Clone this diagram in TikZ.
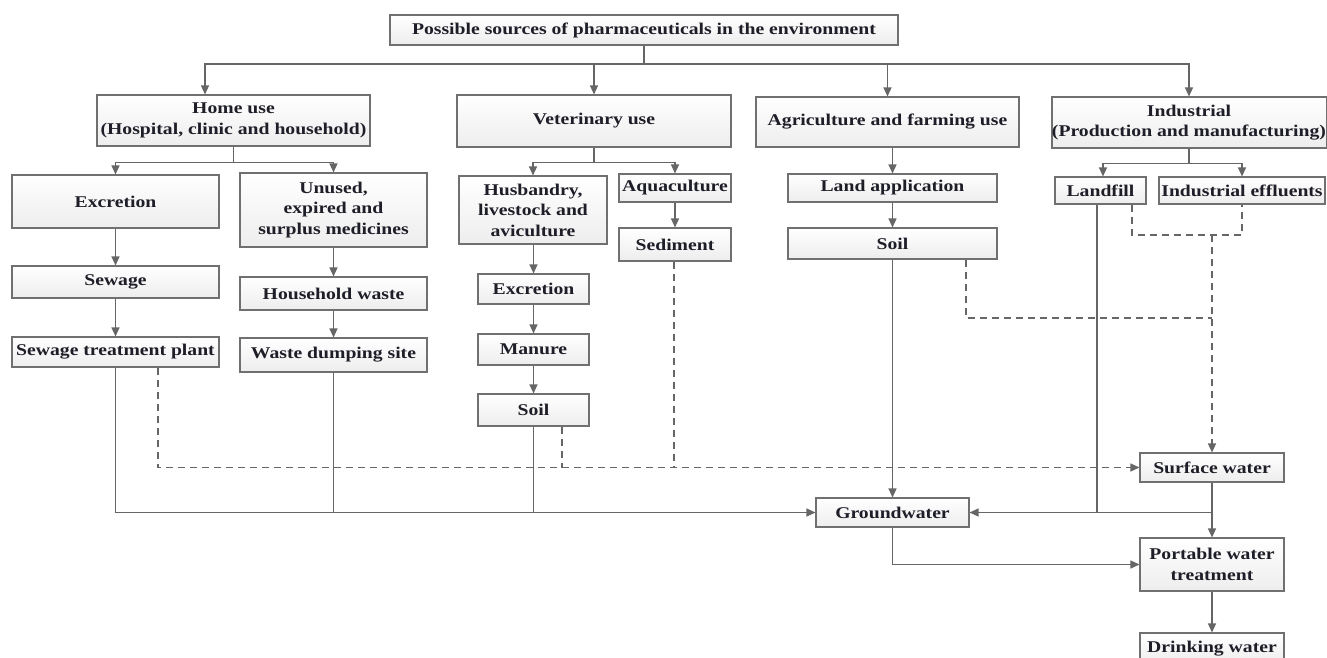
\documentclass[tikz,border=0pt]{standalone}
\usepackage{fontspec}
\setmainfont{Liberation Serif}[FakeStretch=1.2]
\usetikzlibrary{arrows.meta,calc}
\definecolor{ln}{HTML}{666666}
\definecolor{bd}{HTML}{707070}
\definecolor{tx}{HTML}{1E1E28}
\begin{document}
\begin{tikzpicture}[x=1pt,y=-1pt,
  box/.style={draw=bd, line width=1.1pt, top color=white, bottom color=gray!14, text=tx,
    font=\fontsize{16.4}{20.5}\selectfont\bfseries, align=center, inner sep=0pt},
  line/.style={draw=ln, line width=1.3pt},
  arr/.style={line, -{Triangle[length=9pt,width=8pt]}},
  dline/.style={line, dash pattern=on 7pt off 5pt},
  darr/.style={dline, -{Triangle[length=9pt,width=8pt]}}]
\useasboundingbox (0,0) rectangle (1327,658);
% nodes
\node[box, minimum width=508pt, minimum height=30pt] (top) at (644,30) {Possible sources of pharmaceuticals in the environment};
\node[box, minimum width=273pt, minimum height=51pt] (home) at (233.5,120.5) {Home use\\(Hospital, clinic and household)};
\node[box, minimum width=274pt, minimum height=52pt] (vet) at (594,121) {Veterinary use};
\node[box, minimum width=263pt, minimum height=50pt] (agri) at (887.5,122) {Agriculture and farming use};
\node[box, minimum width=272pt, minimum height=51pt] (ind) at (1189,122.5) {Industrial\\(Production and manufacturing)};
\node[box, minimum width=207pt, minimum height=53pt] (exc) at (115.5,201.5) {Excretion};
\node[box, minimum width=187pt, minimum height=74pt] (unused) at (333.5,210) {Unused,\\expired and\\surplus medicines};
\node[box, minimum width=207pt, minimum height=32pt] (sew) at (115.5,282) {Sewage};
\node[box, minimum width=207pt, minimum height=30pt] (stp) at (115.5,352) {Sewage treatment plant};
\node[box, minimum width=187pt, minimum height=33pt] (hw) at (333.5,293.5) {Household waste};
\node[box, minimum width=187pt, minimum height=34pt] (wds) at (333.5,355) {Waste dumping site};
\node[box, minimum width=148pt, minimum height=68pt] (hus) at (533,210) {Husbandry,\\livestock and\\aviculture};
\node[box, minimum width=112pt, minimum height=28pt] (aqua) at (675,188) {Aquaculture};
\node[box, minimum width=112pt, minimum height=33pt] (sed) at (675,244.5) {Sediment};
\node[box, minimum width=111pt, minimum height=30pt] (vexc) at (533.5,289) {Excretion};
\node[box, minimum width=111pt, minimum height=31pt] (man) at (533.5,349.5) {Manure};
\node[box, minimum width=111pt, minimum height=32pt] (vsoil) at (533.5,410) {Soil};
\node[box, minimum width=209pt, minimum height=28pt] (land) at (892.5,188) {Land application};
\node[box, minimum width=209pt, minimum height=31pt] (asoil) at (892.5,243.5) {Soil};
\node[box, minimum width=91pt, minimum height=27pt] (lf) at (1100.5,190.5) {Landfill};
\node[box, minimum width=166pt, minimum height=27pt] (eff) at (1242,190.5) {Industrial effluents};
\node[box, minimum width=144pt, minimum height=29pt] (sw) at (1212,467.5) {Surface water};
\node[box, minimum width=153pt, minimum height=29pt] (gw) at (892.5,512.5) {Groundwater};
\node[box, minimum width=144pt, minimum height=53pt] (pw) at (1212,564.5) {Portable water\\treatment};
\node[box, minimum width=144pt, minimum height=32pt] (dw) at (1212,649) {Drinking water};
% top bus
\coordinate (bus) at (644,64);
\coordinate (hx) at (205,0);
\draw[line] (top.south) -- (bus);
\draw[arr] (bus) -| (home.north -| hx);
\draw[arr] (bus) -| (vet.north);
\draw[arr] (bus) -| (agri.north);
\draw[arr] (bus) -| (ind.north);
% home use
\draw[arr] (home.south) -- ++(0,16) -| (exc.north);
\draw[arr] (home.south) -- ++(0,16) -| (unused.north);
\draw[arr] (exc) -- (sew);
\draw[arr] (sew) -- (stp);
\draw[arr] (unused) -- (hw);
\draw[arr] (hw) -- (wds);
% veterinary
\draw[arr] (vet.south) -- ++(0,15) -| (hus.north);
\draw[arr] (vet.south) -- ++(0,15) -| (aqua.north);
\draw[arr] (hus.south -| vexc.north) -- (vexc.north);
\draw[arr] (vexc) -- (man);
\draw[arr] (man) -- (vsoil);
\draw[arr] (aqua) -- (sed);
% agriculture
\draw[arr] (agri.south -| land.north) -- (land.north);
\draw[arr] (land) -- (asoil);
\draw[arr] (asoil) -- (gw);
% industrial
\draw[arr] (ind.south) -- ++(0,15) -| ([xshift=2.5pt]lf.north);
\draw[arr] (ind.south) -- ++(0,15) -| (eff.north);
% water
\draw[arr] (sw.south) -- (pw.north);
\draw[arr] (sw.south |- gw.east) -- (gw.east);
\draw[line] ([xshift=-3.5pt]lf.south) -- ([xshift=-3.5pt]lf.south |- gw.east);
\draw[arr] (stp.south) |- (gw.west);
\draw[line] (wds.south) -- (wds.south |- gw.west);
\draw[line] (vsoil.south) -- (vsoil.south |- gw.west);
\draw[arr] (gw.south) |- (pw.west);
\draw[arr] (pw) -- (dw);
% dashed
\draw[darr] ([xshift=42.5pt]stp.south) |- (sw.west);
\draw[dline] ([xshift=28.5pt]vsoil.south) -- ([xshift=28.5pt]vsoil.south |- sw.west);
\draw[dline] ([xshift=-1pt]sed.south) -- ([xshift=-1pt]sed.south |- sw.west);
\coordinate (br) at (1212,235);
\draw[dline] ([xshift=31.5pt]lf.south) |- (eff.south |- br) -- (eff.south);
\draw[darr] (br) -- (sw.north);
\coordinate (ad) at (1212,318);
\draw[dline] ([xshift=73.5pt]asoil.south) |- (ad);
\end{tikzpicture}
\end{document}
